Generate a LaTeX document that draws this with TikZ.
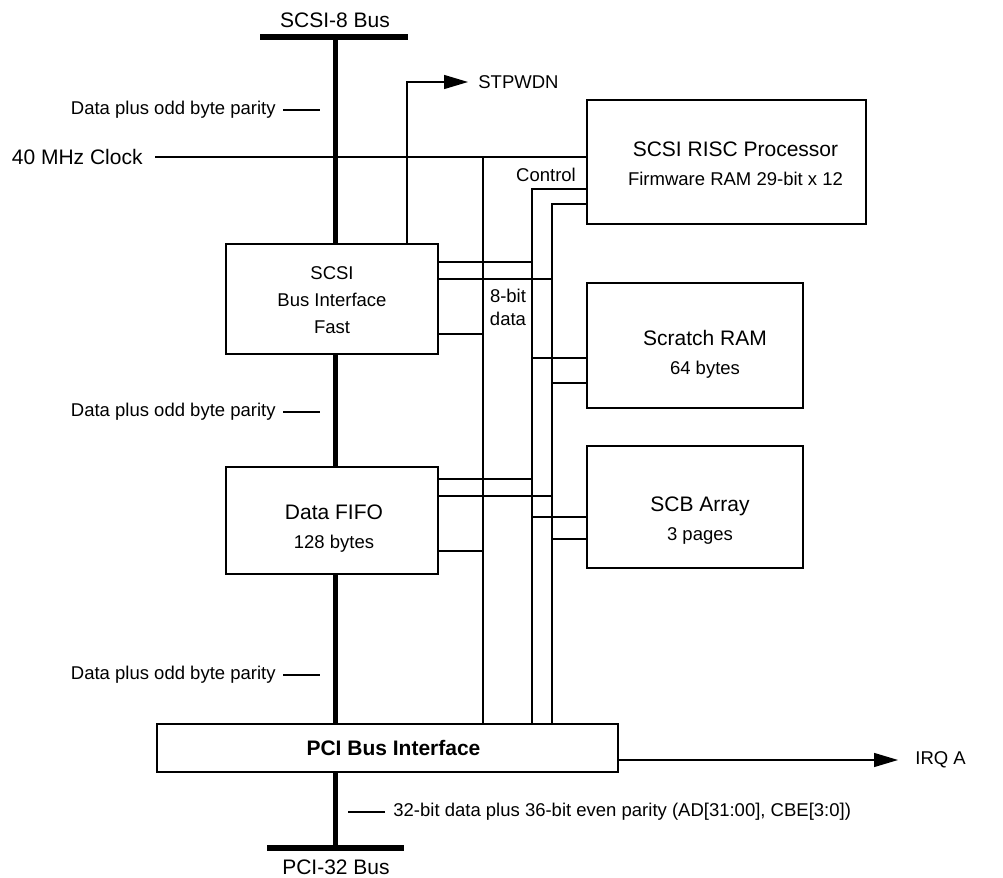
\documentclass[tikz,border=0pt]{standalone}
\usepackage{fontspec}
\setmainfont{Liberation Sans}
\usetikzlibrary{arrows.meta}
\newcommand{\bigtxt}{\fontsize{10.5}{14.5}\selectfont}
\newcommand{\smalltxt}{\fontsize{9.25}{13.5}\selectfont}

\begin{document}
\begin{tikzpicture}[x=0.5pt, y=-0.5pt, every node/.style={font=\smalltxt, inner sep=0pt},
    blk/.style={draw, line width=1pt},
    blktxt/.style={align=center, font=\bigtxt},
    wire/.style={line width=0.7pt},
    bus/.style={line width=2.5pt},
    busbar/.style={line width=3pt},
    sig/.style={wire, -{Triangle[length=12pt, width=7pt]}}]
    \useasboundingbox (0,0) rectangle (1003,878);
    % blocks
    \node[blk, minimum width=106pt, minimum height=55pt] (scsi) at (332,299) {};
    \node[blk, minimum width=106pt, minimum height=53.5pt] (fifo) at (332,520.5) {};
    \node[blk, minimum width=139.5pt, minimum height=62pt] (risc) at (726.5,162) {};
    \node[blk, minimum width=108pt, minimum height=62.5pt] (scratch) at (695,345.5) {};
    \node[blk, minimum width=108pt, minimum height=61pt] (scb) at (695,507) {};
    \node[blk, minimum width=230.5pt, minimum height=24pt] (pci) at (387.5,748) {};
    \node[blktxt, font=\smalltxt] (scsitxt) at ([yshift=-0.5pt]scsi) {SCSI\\Bus Interface\\Fast};
    \node[blktxt] (fifotxt) at ([xshift=1pt, yshift=-4pt]fifo) {Data FIFO\\{\smalltxt 128 bytes}};
    \node[blktxt] (risctxt) at ([xshift=4.5pt, yshift=-1pt]risc) {SCSI RISC Processor\\{\smalltxt Firmware RAM 29-bit x 12}};
    \node[blktxt] (scratchtxt) at ([xshift=5pt, yshift=-4.5pt]scratch) {Scratch RAM\\{\smalltxt 64 bytes}};
    \node[blktxt] (scbtxt) at ([xshift=2.5pt, yshift=-7pt]scb) {SCB Array\\{\smalltxt 3 pages}};
    \node[blktxt, font=\bigtxt\bfseries] (pcitxt) at ([xshift=3pt]pci) {PCI Bus Interface};
    % buses
    \coordinate (bustop) at (335,37);
    \coordinate (busbot) at (335,848);
    \draw[busbar] (260,37) -- (408,37);
    \draw[busbar] (267,848) -- (404,848);
    \node[font=\bigtxt] (scsibus) at (335,20) {SCSI-8 Bus};
    \node[font=\bigtxt] (pcibus) at (336,867) {PCI-32 Bus};
    \draw[bus] (bustop) -- (bustop |- scsi.north);
    \draw[bus] (scsi.south -| bustop) -- (bustop |- fifo.north);
    \draw[bus] (fifo.south -| bustop) -- (bustop |- pci.north);
    \draw[bus] (pci.south -| bustop) -- (busbot);
    \node[anchor=east] (par1) at (276,110) {Data plus odd byte parity};
    \node[anchor=east] (par2) at (276,412) {Data plus odd byte parity};
    \node[anchor=east] (par3) at (276,675) {Data plus odd byte parity};
    \draw[wire] (par1.east) ++(7,0) -- ++(37,0);
    \draw[wire] (par2.east) ++(7,0) -- ++(37,0);
    \draw[wire] (par3.east) ++(7,0) -- ++(37,0);
    \node[anchor=west] (pcidat) at (393,812) {32-bit data plus 36-bit even parity (AD[31:00], CBE[3:0])};
    \draw[wire] (pcidat.west) ++(-8,0) -- ++(-37,0);
    % clock and control
    \node[anchor=east, font=\bigtxt] (clk) at (143,157) {40 MHz Clock};
    \draw[wire] ([xshift=6pt]clk.east) -- (clk -| risc.west);
    \coordinate (cola) at (483,157);
    \coordinate (colb) at (532,189);
    \coordinate (colc) at (552,204);
    \draw[wire] (cola) -- (cola |- pci.north);
    \draw[wire] (colb -| risc.west) -- (colb) -- (colb |- pci.north);
    \draw[wire] (colc -| risc.west) -- (colc) -- (colc |- pci.north);
    \node (ctl) at (546,175) {Control};
    \node[align=center, font=\fontsize{9.25}{11.5}\selectfont] (dat8) at (508,307) {8-bit\\data};
    % taps
    \draw[wire] (scsi.east |- 0,262) -- (colb |- 0,262);
    \draw[wire] (scsi.east |- 0,279) -- (colc |- 0,279);
    \draw[wire] (scsi.east |- 0,334) -- (cola |- 0,334);
    \draw[wire] (fifo.east |- 0,479) -- (colb |- 0,479);
    \draw[wire] (fifo.east |- 0,496) -- (colc |- 0,496);
    \draw[wire] (fifo.east |- 0,551) -- (cola |- 0,551);
    \draw[wire] (colb |- 0,358) -- (scratch.west |- 0,358);
    \draw[wire] (colc |- 0,383) -- (scratch.west |- 0,383);
    \draw[wire] (colb |- 0,517) -- (scb.west |- 0,517);
    \draw[wire] (colc |- 0,539) -- (scb.west |- 0,539);
    % outputs
    \node[anchor=west] (stp) at (478,82) {STPWDN};
    \draw[sig] (scsi.north -| 407,0) |- ([xshift=-5pt]stp.west);
    \node[anchor=west] (irq) at (915,760) {IRQ A};
    \draw[sig] (pci.east |- irq) -- ([xshift=-8.5pt]irq.west);
\end{tikzpicture}
\end{document}
